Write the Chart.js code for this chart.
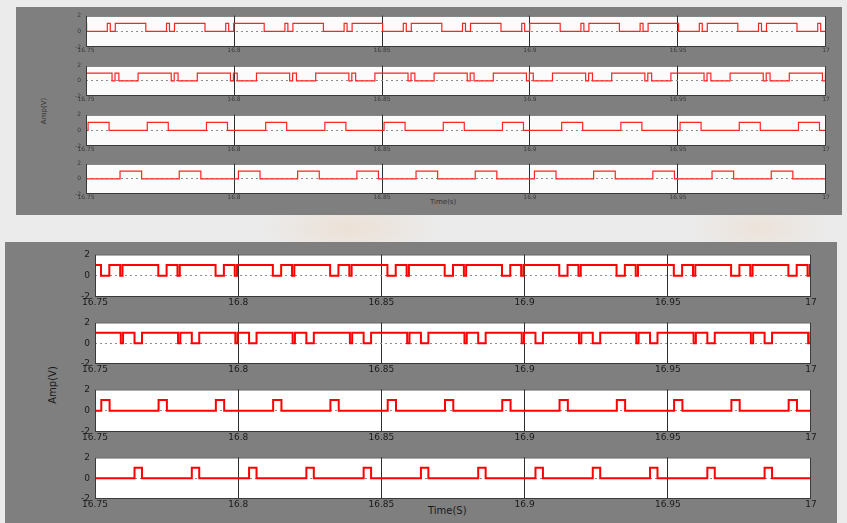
<!DOCTYPE html>
<html><head><meta charset="utf-8">
<script src="https://cdn.jsdelivr.net/npm/chart.js@4/dist/chart.umd.min.js"></script>
<style>
html,body{margin:0;padding:0;}
body{width:847px;height:523px;position:relative;overflow:hidden;font-family:"DejaVu Sans",sans-serif;
background:
 radial-gradient(ellipse 90px 30px at 350px 228px, rgba(238,214,192,0.5), rgba(238,214,192,0) 100%),
 radial-gradient(ellipse 70px 30px at 760px 228px, rgba(238,216,196,0.45), rgba(238,216,196,0) 100%),
 #ebebeb;}
.panel{position:absolute;background:#7f7f7f;}
canvas{position:absolute;}
.lbl{position:absolute;white-space:nowrap;color:#1a1a1a;}
</style></head><body>
<div class="panel" style="left:16px;top:7px;width:826px;height:208px"></div>
<div class="panel" style="left:5px;top:242px;width:832px;height:281px"></div>
<div class="lbl" style="left:430px;top:198px;font-size:7px;color:#333">Time(s)</div>
<div class="lbl" style="left:44px;top:111px;font-size:7px;color:#333;transform:translate(-50%,-50%) rotate(-90deg)">Amp(V)</div>
<div class="lbl" style="left:428px;top:505px;font-size:10px;">Time(S)</div>
<div class="lbl" style="left:52px;top:385px;font-size:10px;transform:translate(-50%,-50%) rotate(-90deg)">Amp(V)</div>
<script>
// ---- data ----
const timeTicks = [16.75, 16.8, 16.85, 16.9, 16.95, 17];
const timeLabels = ['16.75', '16.8', '16.85', '16.9', '16.95', '17'];
const ampTicks = [-2, 0, 2];
const ampLabels = ['-2', '0', '2'];

// top panel: switching edge times (s) and [start level, other level]
const topRow1Levels = [1, 0];
const topRow1Edges = [
16.7502,16.7572,16.7582,16.7599, 16.7702,16.7772,16.7782,16.7799, 16.7902,16.7972,16.7982,16.7999,
16.8102,16.8172,16.8182,16.8199, 16.8302,16.8372,16.8382,16.8399, 16.8502,16.8572,16.8582,16.8599,
16.8702,16.8772,16.8782,16.8799, 16.8902,16.8972,16.8982,16.8999, 16.9102,16.9172,16.9182,16.9199,
16.9302,16.9372,16.9382,16.9399, 16.9502,16.9572,16.9582,16.9599, 16.9702,16.9772,16.9782,16.9799,
16.9902,16.9972,16.9982,16.9999];
const topRow2Levels = [1, 0];
const topRow2Edges = [
16.7588,16.7598,16.7611,16.7676, 16.7788,16.7798,16.7811,16.7876, 16.7988,16.7998,16.8011,16.8076,
16.8188,16.8198,16.8211,16.8276, 16.8388,16.8398,16.8411,16.8476, 16.8588,16.8598,16.8611,16.8676,
16.8788,16.8798,16.8811,16.8876, 16.8988,16.8998,16.9011,16.9076, 16.9188,16.9198,16.9211,16.9276,
16.9388,16.9398,16.9411,16.9476, 16.9588,16.9598,16.9611,16.9676, 16.9788,16.9798,16.9811,16.9876,
16.9988,16.9998];
const topRow3Levels = [0, 1];
const topRow3Edges = [
16.7507,16.7578, 16.7707,16.7778, 16.7907,16.7978, 16.8107,16.8178, 16.8307,16.8378, 16.8507,16.8578,
16.8707,16.8778, 16.8907,16.8978, 16.9107,16.9178, 16.9307,16.9378, 16.9507,16.9578, 16.9707,16.9778,
16.9907,16.9978];
const topRow4Levels = [0, 1];
const topRow4Edges = [
16.7615,16.7688, 16.7815,16.7888, 16.8015,16.8088, 16.8215,16.8288, 16.8415,16.8488, 16.8615,16.8688,
16.8815,16.8888, 16.9015,16.9088, 16.9215,16.9288, 16.9415,16.9488, 16.9615,16.9688, 16.9815,16.9888];

// bottom panel
const botRow1Levels = [1, 0];
const botRow1Edges = [
16.7521,16.7550,16.7588,16.7596, 16.7721,16.7750,16.7788,16.7796, 16.7921,16.7950,16.7988,16.7996,
16.8121,16.8150,16.8188,16.8196, 16.8321,16.8350,16.8388,16.8396, 16.8521,16.8550,16.8588,16.8596,
16.8721,16.8750,16.8788,16.8796, 16.8921,16.8950,16.8988,16.8996, 16.9121,16.9150,16.9188,16.9196,
16.9321,16.9350,16.9388,16.9396, 16.9521,16.9550,16.9588,16.9596, 16.9721,16.9750,16.9788,16.9796,
16.9921,16.9950,16.9988,16.9996];
const botRow2Levels = [1, 0];
const botRow2Edges = [
16.7590,16.7598,16.7638,16.7664, 16.7790,16.7798,16.7838,16.7864, 16.7990,16.7998,16.8038,16.8064,
16.8190,16.8198,16.8238,16.8264, 16.8390,16.8398,16.8438,16.8464, 16.8590,16.8598,16.8638,16.8664,
16.8790,16.8798,16.8838,16.8864, 16.8990,16.8998,16.9038,16.9064, 16.9190,16.9198,16.9238,16.9264,
16.9390,16.9398,16.9438,16.9464, 16.9590,16.9598,16.9638,16.9664, 16.9790,16.9798,16.9838,16.9864,
16.9990,16.9998];
const botRow3Levels = [0, 1];
const botRow3Edges = [
16.7522,16.7551, 16.7722,16.7751, 16.7922,16.7951, 16.8122,16.8151, 16.8322,16.8351, 16.8522,16.8551,
16.8722,16.8751, 16.8922,16.8951, 16.9122,16.9151, 16.9322,16.9351, 16.9522,16.9551, 16.9722,16.9751,
16.9922,16.9951];
const botRow4Levels = [0, 1];
const botRow4Edges = [
16.7638,16.7664, 16.7838,16.7864, 16.8038,16.8064, 16.8238,16.8264, 16.8438,16.8464, 16.8638,16.8664,
16.8838,16.8864, 16.9038,16.9064, 16.9238,16.9264, 16.9438,16.9464, 16.9638,16.9664, 16.9838,16.9864];

// ---- drawing ----
const framePlugin = {
  id: 'frame',
  beforeDraw(chart, args, opts) {
    const a = chart.chartArea, ctx = chart.ctx;
    ctx.save(); ctx.fillStyle = opts.bg; ctx.fillRect(a.left, a.top, a.right - a.left, a.bottom - a.top); ctx.restore();
  },
  afterDraw(chart, args, opts) {
    const a = chart.chartArea, ctx = chart.ctx;
    ctx.save(); ctx.strokeStyle = opts.color; ctx.lineWidth = 1;
    ctx.strokeRect(a.left + 0.5, a.top + 0.5, a.right - a.left - 1, a.bottom - a.top - 1); ctx.restore();
  }
};

function makePlot(p) {
  const padT = 8, padR = 16, yW = 40;
  const W = p.w + yW + padR, H = p.h + padT + p.xH;
  const c = document.createElement('canvas');
  c.width = W; c.height = H;
  c.style.left = (p.x - yW) + 'px'; c.style.top = (p.y - padT) + 'px';
  c.style.width = W + 'px'; c.style.height = H + 'px';
  document.body.appendChild(c);
  const pts = [{x: timeTicks[0], y: p.levels[0]}];
  let s = 0;
  p.edges.forEach(t => { s = 1 - s; pts.push({x: t, y: p.levels[s]}); });
  pts.push({x: timeTicks[timeTicks.length - 1], y: p.levels[s]});
  new Chart(c, {
    type: 'line',
    data: {datasets: [{data: pts, stepped: true, borderColor: p.color, borderWidth: p.lw, pointRadius: 0, fill: false}]},
    options: {
      responsive: false, maintainAspectRatio: false, animation: false, devicePixelRatio: 1,
      layout: {padding: {top: padT, right: padR, left: 0, bottom: 0}},
      plugins: {legend: {display: false}, tooltip: {enabled: false}, frame: {bg: p.bg, color: '#3a3a3a'}},
      scales: {
        x: {
          type: 'linear', min: timeTicks[0], max: timeTicks[timeTicks.length - 1],
          afterBuildTicks: sc => { sc.ticks = timeTicks.map(v => ({value: v})); },
          afterFit: sc => { sc.height = p.xH; },
          ticks: {callback: (v, i) => timeLabels[i], color: p.tickColor, font: {size: p.fs, family: 'DejaVu Sans'}, padding: 0, maxRotation: 0, autoSkip: false},
          grid: {drawTicks: false, lineWidth: 1, color: ctx => (ctx.index > 0 && ctx.index < timeTicks.length - 1) ? '#2e2e2e' : 'rgba(0,0,0,0)'},
          border: {display: false}
        },
        y: {
          min: ampTicks[0], max: ampTicks[ampTicks.length - 1],
          afterBuildTicks: sc => { sc.ticks = ampTicks.map(v => ({value: v})); },
          afterFit: sc => { sc.width = yW; },
          ticks: {callback: (v, i) => ampLabels[i], color: p.tickColor, font: {size: p.fs, family: 'DejaVu Sans'}, padding: 5},
          grid: {drawTicks: false, lineWidth: 1, color: ctx => (ctx.tick && ctx.tick.value === 0) ? '#8c8c8c' : 'rgba(0,0,0,0)'},
          border: {display: false, dash: [2, 3]}
        }
      }
    },
    plugins: [framePlugin]
  });
}

const topRows = [
  {edges: topRow1Edges, levels: topRow1Levels, y: 15, h: 32},
  {edges: topRow2Edges, levels: topRow2Levels, y: 65, h: 31},
  {edges: topRow3Edges, levels: topRow3Levels, y: 114, h: 32},
  {edges: topRow4Edges, levels: topRow4Levels, y: 163, h: 31}
];
topRows.forEach(r => makePlot(Object.assign(r, {x: 86, w: 740, xH: 10, fs: 6, lw: 1.2, color: '#ff2424', bg: '#fbfbfb', tickColor: '#3a3a3a'})));

const botRows = [
  {edges: botRow1Edges, levels: botRow1Levels, y: 252, h: 45},
  {edges: botRow2Edges, levels: botRow2Levels, y: 320, h: 44},
  {edges: botRow3Edges, levels: botRow3Levels, y: 387, h: 45},
  {edges: botRow4Edges, levels: botRow4Levels, y: 455, h: 44}
];
botRows.forEach(r => makePlot(Object.assign(r, {x: 95, w: 716, xH: 13, fs: 9, lw: 2, color: '#ff0000', bg: '#ffffff', tickColor: '#1a1a1a'})));
</script>
</body></html>
